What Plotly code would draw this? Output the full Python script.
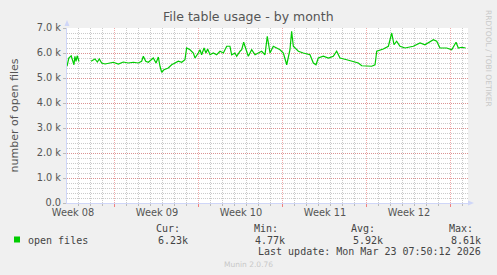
import plotly.graph_objects as go

# ---- data (x in days from left edge of graph, y = open files) ----
seg1_days = [0.0, 0.15, 0.35, 0.5, 0.58, 0.66, 0.75, 0.85, 1.0]
seg1_vals = [5470, 5800, 5890, 5660, 5530, 5870, 5660, 5890, 5660]

seg2_days = [2.0, 2.19, 2.33, 2.53, 2.69, 2.89, 3.17, 3.58, 3.86, 4.28, 4.69, 5.11, 5.53, 5.94,
             6.22, 6.36, 6.56, 6.78, 7.19, 7.42, 7.61, 7.75, 7.89, 8.08, 8.44, 8.72, 9.0, 9.28,
             9.56, 9.83, 9.97, 10.25, 10.53, 10.67, 10.94, 11.08, 11.22, 11.42, 11.58, 11.72,
             11.92, 12.19, 12.47, 12.75, 13.03, 13.31, 13.58, 13.72, 14.0, 14.14, 14.42, 14.56,
             14.72, 14.97, 15.11, 15.39, 15.67, 15.94, 16.22, 16.5, 16.69, 16.92, 17.19, 17.47,
             17.75, 18.03, 18.31, 18.58, 18.72, 18.86, 19.28, 19.69, 20.25, 20.53, 20.75, 20.94,
             21.36, 21.78, 22.19, 22.47, 22.75, 23.31, 23.86, 24.28, 24.56, 24.97, 25.39, 25.67,
             25.81, 26.36, 26.78, 27.06, 27.25, 27.47, 27.75, 28.17, 28.86, 29.42, 29.83, 30.53,
             30.81, 31.08, 31.64, 32.06, 32.42, 32.61, 32.89, 33.22]
seg2_vals = [5670, 5730, 5760, 5640, 5760, 5600, 5560, 5600, 5630, 5560, 5640, 5600, 5630, 5600,
             5670, 5870, 5670, 5630, 5800, 5600, 5840, 5470, 5230, 5330, 5400, 5530, 5600, 5670,
             5630, 5730, 6200, 6130, 6000, 5800, 6000, 6130, 5930, 6200, 6000, 6160,
             5930, 6000, 5930, 6070, 6000, 6270, 6270, 5930, 6000, 5870, 6070, 6130,
             6430, 6050, 5870, 6130, 5930, 6000, 6070, 5930, 6670, 6000, 6270, 6200,
             6130, 6000, 5530, 6130, 6870, 6270, 6070, 6000, 5930, 5600, 5530, 5800,
             5870, 5800, 5870, 6070, 5800, 5730, 5670, 5600, 5490, 5470, 5470, 5530,
             6070, 6160, 6270, 6800, 6330, 6470, 6270, 6200, 6270, 6400, 6330, 6530,
             6470, 6200, 6200, 6130, 6430, 6200, 6230, 6200]

y_tickvals = [0, 1000, 2000, 3000, 4000, 5000, 6000, 7000]
y_ticktext = ["0.0", "1.0 k", "2.0 k", "3.0 k", "4.0 k", "5.0 k", "6.0 k", "7.0 k"]
week_label_pos = [0.5, 7.5, 14.5, 21.5, 28.5]
week_labels = ["Week 08", "Week 09", "Week 10", "Week 11", "Week 12"]
week_start = 3.917

legend_name = "open files"
stat_names = ["Cur:", "Min:", "Avg:", "Max:"]
stat_vals = ["6.23k", "4.77k", "5.92k", "8.61k"]
last_update = "Last update: Mon Mar 23 07:50:12 2026"

# ---- geometry ----
W, H = 497, 275
L, R, T, B = 67, 468, 28, 203
X_MAX = (R - L) / 12.0


def px(x):
    return (x - L) / (R - L)


def py(y):
    return (B - y) / (B - T)


GREEN = "#00CC00"
FONT = "#555555"
AXIS = "#CFD6F8"
MAJ = "rgba(230,110,110,0.6)"
MIN = "rgba(150,150,150,0.5)"
DOT = "1px,1px"

fig = go.Figure()
fig.add_trace(go.Scatter(x=seg1_days, y=seg1_vals, mode="lines",
                         line=dict(color=GREEN, width=1.2), hoverinfo="skip"))
fig.add_trace(go.Scatter(x=seg2_days, y=seg2_vals, mode="lines",
                         line=dict(color=GREEN, width=1.2), hoverinfo="skip"))
fig.add_trace(go.Scatter(x=[0], y=[0], xaxis="x2", mode="markers",
                         marker=dict(opacity=0), hoverinfo="skip"))

fig.update_layout(
    width=W, height=H,
    margin=dict(l=L, r=W - R, t=T, b=H - B, pad=0),
    paper_bgcolor="#F0F0F0", plot_bgcolor="#FFFFFF",
    showlegend=False,
    font=dict(family="DejaVu Sans", size=10, color=FONT),
    xaxis=dict(range=[0, X_MAX], tickmode="array", tickvals=week_label_pos,
               ticktext=week_labels, showgrid=False, zeroline=False,
               showline=True, linecolor=AXIS, linewidth=1, ticks="",
               tickfont=dict(size=9.8, color=FONT), fixedrange=True),
    xaxis2=dict(range=[0, X_MAX], overlaying="x", side="bottom",
                tickmode="linear", tick0=week_start, dtick=7,
                showticklabels=False, ticks="outside", ticklen=3, tickcolor="#F08080",
                showgrid=True, gridcolor=MAJ, griddash=DOT, gridwidth=1,
                minor=dict(tick0=week_start, dtick=1, showgrid=True,
                           gridcolor=MIN, griddash=DOT, gridwidth=1,
                           ticks="outside", ticklen=2, tickcolor="#BBBBBB"),
                zeroline=False, showline=False, fixedrange=True),
    yaxis=dict(range=[0, 7000], tickmode="array", tickvals=y_tickvals, ticktext=y_ticktext,
               showgrid=True, gridcolor=MAJ, griddash=DOT, gridwidth=1,
               minor=dict(dtick=200, tick0=0, showgrid=True,
                          gridcolor=MIN, griddash=DOT, gridwidth=1),
               zeroline=False, showline=True, linecolor=AXIS, linewidth=1,
               ticks="outside", ticklen=3, tickcolor="#BBBBBB",
               tickfont=dict(size=9.8, color=FONT), fixedrange=True,
               title=dict(text="number of open files", font=dict(size=11, color=FONT),
                          standoff=15)),
)

# axis arrows
fig.add_shape(type="path", xref="paper", yref="paper",
              path=f"M {px(64.5)} {py(26)} L {px(69.5)} {py(26)} L {px(67)} {py(20)} Z",
              fillcolor=AXIS, line=dict(width=0))
fig.add_shape(type="path", xref="paper", yref="paper",
              path=f"M {px(468)} {py(200.5)} L {px(468)} {py(205.5)} L {px(474)} {py(203)} Z",
              fillcolor=AXIS, line=dict(width=0))

# title
fig.add_annotation(text="File table usage - by month", xref="paper", yref="paper",
                   x=px(248), y=py(17), xanchor="center", yanchor="middle", showarrow=False,
                   font=dict(size=12.5, color=FONT))
# watermark
fig.add_annotation(text="RRDTOOL / TOBI OETIKER", xref="paper", yref="paper",
                   x=px(488), y=py(58), textangle=90, xanchor="center", yanchor="middle",
                   showarrow=False, font=dict(size=7.5, color="#C8C8C8"))
fig.add_annotation(text="Munin 2.0.76", xref="paper", yref="paper",
                   x=px(248), y=py(264.5), xanchor="center", yanchor="middle",
                   showarrow=False, font=dict(size=7.5, color="#C8C8C8"))

MONO = "DejaVu Sans Mono"
# legend swatch
fig.add_shape(type="rect", xref="paper", yref="paper",
              x0=px(14), x1=px(20), y0=py(242.5), y1=py(236.5),
              fillcolor=GREEN, line=dict(width=0))
fig.add_annotation(text=legend_name, xref="paper", yref="paper", x=px(25.5), y=py(240),
                   xanchor="left", yanchor="middle", showarrow=False,
                   font=dict(family=MONO, size=10, color="#444444"))
stat_lefts = [154, 251.7, 349, 447]
stat_rights = [190, 286.7, 385, 483]
for name, val, lx, rx in zip(stat_names, stat_vals, stat_lefts, stat_rights):
    fig.add_annotation(text=name, xref="paper", yref="paper", x=px(lx), y=py(228),
                       xanchor="left", yanchor="middle", showarrow=False,
                       font=dict(family=MONO, size=10, color="#444444"))
    fig.add_annotation(text=val, xref="paper", yref="paper", x=px(rx), y=py(240),
                       xanchor="right", yanchor="middle", showarrow=False,
                       font=dict(family=MONO, size=10, color="#444444"))
fig.add_annotation(text=last_update, xref="paper", yref="paper", x=px(483), y=py(251.5),
                   xanchor="right", yanchor="middle", showarrow=False,
                   font=dict(family=MONO, size=10, color="#444444"))

fig.write_html("out.html", config=dict(displayModeBar=False))
